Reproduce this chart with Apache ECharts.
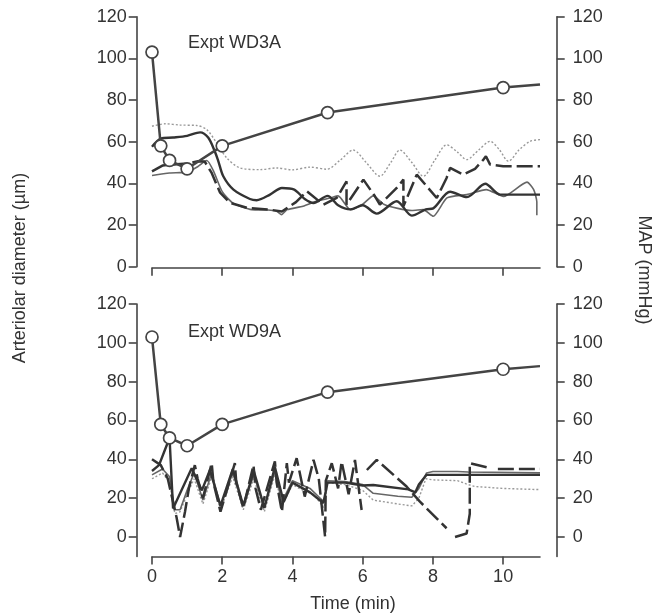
<!DOCTYPE html>
<html><head><meta charset="utf-8">
<script src="https://cdn.jsdelivr.net/npm/echarts@6/dist/echarts.min.js"></script>
<style>html,body{margin:0;padding:0;background:#fff}#c{width:667px;height:616px}</style>
</head><body><div id="c"></div>
<script>
// ---- tick values ----
const xTicks = [0, 2, 4, 6, 8, 10];
const yTicks = [0, 20, 40, 60, 80, 100, 120];

// ---- MAP (mmHg) sample times and values ----
const mapTimes = [0, 0.25, 0.5, 1, 2, 5, 10, 11.05];
const topMAP = [103, 58, 51, 47, 58, 74, 86, 87.5];
const bottomMAP = [103, 58, 51, 47, 58, 74.6, 86.4, 88];

// ---- Expt WD3A arteriolar diameter traces [time, diameter] ----
const topDotted = [[0,67.4],[0.37,68.6],[0.8,68],[1.27,67.8],[1.56,65.8],[1.84,59.4],[2.13,52.2],[2.51,47.4],[3.08,46.6],[3.55,47.4],[4.0,46.5],[4.5,47.8],[4.98,46.8],[5.35,51],[5.73,56],[6.1,50],[6.49,43.4],[6.8,50],[7.06,56],[7.4,50],[7.73,43.4],[8.05,51],[8.39,58.5],[8.7,55],[8.96,51.4],[9.3,56],[9.63,60.2],[9.9,56],[10.15,50.6],[10.45,56],[10.77,60.2],[11.05,61]];
const topSolid = [[0,57.6],[0.25,61.5],[0.6,62],[1.0,62.8],[1.37,64.5],[1.6,62],[1.79,55.3],[1.89,50.6],[2.03,43.4],[2.32,37],[2.79,32.5],[2.98,31.9],[3.36,34.6],[3.7,37.8],[4.05,37],[4.35,32.5],[4.6,30.6],[5.0,34],[5.3,29.5],[5.65,27.5],[6.0,29.5],[6.4,25.5],[6.97,31.4],[7.4,24.5],[7.8,27.5],[8.01,28],[8.49,36],[8.97,33.4],[9.49,39.8],[9.92,34.6],[10.9,34.6],[11.05,34.6]];
const topDashed = [[0,45.8],[0.31,48.6],[0.7,49.2],[1.0,49.5],[1.31,50.6],[1.5,50.5],[1.7,45],[1.94,35.5],[2.22,30.7],[2.7,28.3],[3.3,27.5],[3.7,26.5],[4.1,31],[4.41,36.2],[4.88,29.8],[5.26,33],[5.54,41],[5.54,29.8],[6.02,41.8],[6.35,33.8],[6.49,29.8],[6.97,37.8],[7.16,41.8],[7.16,29],[7.54,44.2],[8.11,33],[8.39,42.6],[8.49,47.4],[8.87,44.2],[9.2,47],[9.44,51.4],[9.51,53],[9.63,49],[10.0,48.2],[11.05,48.2]];
const topGray = [[0,43.8],[0.5,45],[1.0,45.4],[1.3,48],[1.56,51],[1.75,46],[2.0,36],[2.31,30.5],[2.84,27.4],[3.3,27.2],[3.55,26.6],[3.69,25],[3.85,27.4],[4.3,29],[4.7,31.5],[5.08,33],[5.3,34],[5.65,27.4],[6.0,30],[6.3,34],[6.6,30],[7.0,28],[7.4,27],[7.73,27.4],[8.01,24.2],[8.4,33],[8.97,34.6],[9.52,37],[10.01,33.7],[10.68,40.6],[10.87,37],[10.96,31],[10.96,24.7]];

// ---- Expt WD9A arteriolar diameter traces [time, diameter] ----
const bottomDotted = [[0,30],[0.3,33],[0.5,28],[0.65,12],[0.8,13],[1.0,22],[1.2,30],[1.45,17],[1.7,31],[1.95,14],[2.3,31],[2.6,14],[2.9,30],[3.2,13],[3.5,32],[3.7,16],[4.0,27],[4.3,24],[4.6,22],[4.9,15],[5.0,28],[5.5,27],[6.0,24],[6.3,19],[7.0,17],[7.4,16],[7.6,20],[7.8,30],[8.0,29.4],[8.7,29],[9.0,27],[9.2,26],[10,25],[11.05,24.4]];
const bottomGray = [[0,32],[0.3,35],[0.5,31],[0.65,14],[0.8,14],[1.0,24],[1.2,33],[1.45,19],[1.7,33],[1.95,16],[2.3,33],[2.6,16],[2.9,32],[3.2,15],[3.5,34],[3.7,18],[4.0,29],[4.5,25],[4.9,18],[5.0,29],[5.5,28.5],[6.0,27],[6.3,22.5],[7.0,21],[7.4,20.5],[7.6,25],[7.82,33],[8.0,33.7],[8.7,33.7],[9.0,33.5],[11.05,33]];
const bottomSolid = [[0,34],[0.2,37],[0.35,44],[0.5,51],[0.6,14.7],[1.13,35.4],[1.42,24],[1.65,34.5],[1.95,16],[2.3,35],[2.6,16],[2.9,34],[3.2,15],[3.5,36],[3.75,18],[4.0,28],[4.5,23],[4.88,17.5],[5.0,28],[5.5,28],[6.0,26.5],[6.3,26.8],[7.3,24.5],[7.5,23],[7.6,27],[7.82,32],[8.7,32],[9.0,32],[11.05,32]];
const bottomDashed = [[0,40],[0.25,37],[0.45,30],[0.6,18],[0.7,10],[0.8,0],[0.94,13],[1.05,25],[1.22,37],[1.3,30],[1.45,20],[1.7,38],[1.75,28],[1.95,13],[2.36,38],[2.4,28],[2.6,15],[2.89,37],[2.95,25],[3.1,14],[3.5,39],[3.55,28],[3.7,13],[3.84,38],[3.9,28],[4.12,40.6],[4.35,20.8],[4.6,39.7],[4.75,30],[4.93,0],[4.95,29],[5.12,38],[5.3,25],[5.4,38.8],[5.6,22],[5.78,39.7],[5.97,13.9],[6.05,null],[6.12,34.5],[6.4,39.7],[7.25,26],[7.63,18.2],[8.39,4.5],[8.5,null],[8.63,0],[8.96,1.8],[9.05,12],[9.05,38],[9.57,35.7],[9.7,null],[9.85,35],[11.05,35]];

const FONT = '"Liberation Sans", Arial, Helvetica, sans-serif';
const AX = '#444';
const TXT = '#333';

function mapData(vals) {
  return mapTimes.map((t, i) => ({
    value: [t, vals[i]],
    symbol: i === mapTimes.length - 1 ? 'none' : 'circle'
  }));
}

function xAxis(grid, labels) {
  return {
    gridIndex: grid, type: 'value', min: 0, max: 11.05, offset: grid === 0 ? 1 : 0,
    axisLine: { show: true, onZero: false, lineStyle: { color: AX, width: 1.6 } },
    axisTick: { show: true, length: 8, customValues: xTicks, lineStyle: { color: AX, width: 1.6 } },
    axisLabel: { show: labels, customValues: xTicks, margin: 12, fontSize: 18, color: TXT, fontFamily: FONT },
    splitLine: { show: false }
  };
}
function yAxis(grid, pos, min) {
  return {
    gridIndex: grid, type: 'value', position: pos, min: min, max: 120,
    offset: pos === 'left' ? 15.3 : 16.7,
    axisLine: { show: true, onZero: false, lineStyle: { color: AX, width: 1.6 } },
    axisTick: { show: true, length: 8, customValues: yTicks, lineStyle: { color: AX, width: 1.6 } },
    axisLabel: { show: true, customValues: yTicks, margin: pos === 'left' ? 10 : 16, fontSize: 18, color: TXT, fontFamily: FONT },
    splitLine: { show: false }
  };
}

function trace(data, xi, yi, style, smooth) {
  return {
    type: 'line', xAxisIndex: xi, yAxisIndex: yi, data: data,
    symbol: 'none', showSymbol: false, smooth: smooth, connectNulls: false,
    lineStyle: style, z: 2, silent: true
  };
}
function mapSeries(vals, xi, yi) {
  return {
    type: 'line', xAxisIndex: xi, yAxisIndex: yi, data: mapData(vals),
    symbolSize: 12, showSymbol: true,
    lineStyle: { color: '#444', width: 2.5 },
    itemStyle: { color: '#fff', borderColor: '#444', borderWidth: 1.7 },
    z: 5, silent: true
  };
}

const sDotted = { color: '#999', width: 1.4, type: [2, 2] };
const sGray = { color: '#666', width: 1.6 };
const sSolid = { color: '#333', width: 2.4 };
const sDashed = { color: '#333', width: 2.5, type: [16, 5] };

const chart = echarts.init(document.getElementById('c'), null, { renderer: 'canvas' });
chart.setOption({
  animation: false,
  backgroundColor: '#fff',
  textStyle: { fontFamily: FONT },
  grid: [
    { left: 152, top: 16.7, width: 388, height: 250 },
    { left: 152, top: 304, width: 388, height: 252.4 }
  ],
  xAxis: [xAxis(0, false), xAxis(1, true)],
  yAxis: [yAxis(0, 'left', 0), yAxis(0, 'right', 0), yAxis(1, 'left', -10), yAxis(1, 'right', -10)],
  series: [
    trace(topDotted, 0, 0, sDotted, 0.3),
    trace(topGray, 0, 0, sGray, 0.2),
    trace(topSolid, 0, 0, sSolid, 0.3),
    trace(topDashed, 0, 0, sDashed, false),
    mapSeries(topMAP, 0, 1),
    trace(bottomDotted, 1, 2, sDotted, false),
    trace(bottomGray, 1, 2, sGray, false),
    trace(bottomSolid, 1, 2, sSolid, false),
    trace(bottomDashed, 1, 2, sDashed, false),
    mapSeries(bottomMAP, 1, 3)
  ],
  graphic: [
    { type: 'text', x: 188, y: 43, style: { text: 'Expt WD3A', fontSize: 18, fontFamily: FONT, fill: TXT, verticalAlign: 'middle' } },
    { type: 'text', x: 188, y: 332, style: { text: 'Expt WD9A', fontSize: 18, fontFamily: FONT, fill: TXT, verticalAlign: 'middle' } },
    { type: 'text', x: 353, y: 604, style: { text: 'Time (min)', fontSize: 18, fontFamily: FONT, fill: TXT, align: 'center', verticalAlign: 'middle' } },
    { type: 'text', x: 20, y: 268, rotation: Math.PI / 2, style: { text: 'Arteriolar diameter (\u00b5m)', fontSize: 18, fontFamily: FONT, fill: TXT, align: 'center', verticalAlign: 'middle' } },
    { type: 'text', x: 644, y: 270, rotation: -Math.PI / 2, style: { text: 'MAP (mmHg)', fontSize: 18, fontFamily: FONT, fill: TXT, align: 'center', verticalAlign: 'middle' } }
  ]
});
</script>
</body></html>
